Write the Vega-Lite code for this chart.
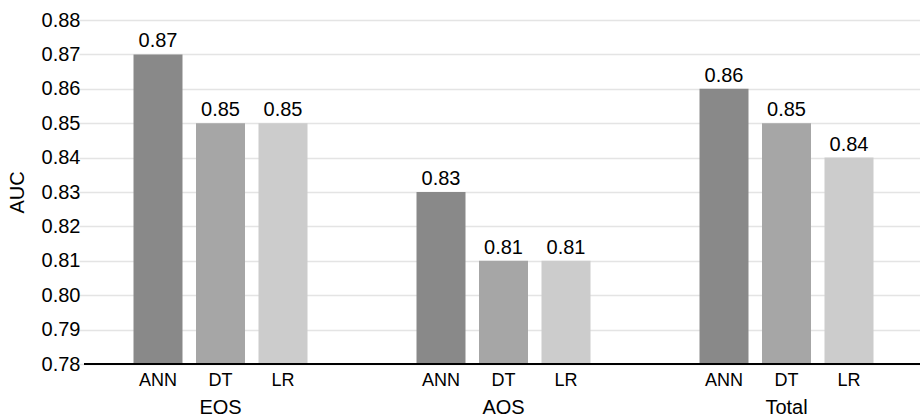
{
  "$schema": "https://vega.github.io/schema/vega-lite/v6.json",
  "autosize": {"type": "none"},
  "width": 849,
  "height": 344,
  "padding": {"left": 84, "top": 20, "right": 0, "bottom": 54},
  "background": "white",
  "config": {
    "view": {"stroke": null},
    "font": "Liberation Sans",
    "axis": {"labelFont": "Liberation Sans", "titleFont": "Liberation Sans", "labelColor": "#000", "titleColor": "#000"},
    "axisY": {"labelOverlap": false, "labelFlush": false, "labelFontSize": 20, "labelPadding": 4, "domain": false, "ticks": false, "grid": true, "gridColor": "#e4e4e4", "gridWidth": 1.5, "titleFontSize": 20, "titleFontWeight": "normal", "titlePadding": 14, "format": ".2f", "tickCount": 12}
  },
  "data": {
    "values": [
      {"group": "EOS", "model": "ANN", "auc": 0.87},
      {"group": "EOS", "model": "DT", "auc": 0.85},
      {"group": "EOS", "model": "LR", "auc": 0.85},
      {"group": "AOS", "model": "ANN", "auc": 0.83},
      {"group": "AOS", "model": "DT", "auc": 0.81},
      {"group": "AOS", "model": "LR", "auc": 0.81},
      {"group": "Total", "model": "ANN", "auc": 0.86},
      {"group": "Total", "model": "DT", "auc": 0.85},
      {"group": "Total", "model": "LR", "auc": 0.84}
    ]
  },
  "encoding": {
    "x": {
      "field": "group", "type": "nominal", "sort": ["EOS", "AOS", "Total"],
      "scale": {"paddingInner": 0, "paddingOuter": 0, "range": [-5, 844]},
      "axis": {"title": null, "domain": false, "ticks": false, "labelAngle": 0, "labelFontSize": 20, "labelPadding": 33, "labelBaseline": "top"}
    },
    "xOffset": {
      "field": "model", "type": "nominal", "sort": ["ANN", "DT", "LR"],
      "scale": {"paddingInner": 0.216, "paddingOuter": 0.872}
    }
  },
  "layer": [
    {
      "mark": {"type": "bar", "clip": false},
      "encoding": {
        "y": {
          "field": "auc", "type": "quantitative",
          "scale": {"domain": [0.78, 0.88], "zero": false, "nice": false},
          "axis": {"title": "AUC", "tickCount": 12, "values": [0.78, 0.79, 0.8, 0.81, 0.82, 0.83, 0.84, 0.85, 0.86, 0.87, 0.88]}
        },
        "y2": {"datum": 0.78},
        "color": {
          "field": "model", "type": "nominal", "sort": ["ANN", "DT", "LR"],
          "scale": {"domain": ["ANN", "DT", "LR"], "range": ["#898989", "#a6a6a6", "#cccccc"]},
          "legend": null
        }
      }
    },
    {
      "mark": {"type": "text", "fontSize": 20, "baseline": "alphabetic", "dy": -7, "color": "#000"},
      "encoding": {
        "y": {"field": "auc", "type": "quantitative"},
        "text": {"field": "auc", "type": "quantitative", "format": ".2f"}
      }
    },
    {
      "mark": {"type": "text", "fontSize": 18, "baseline": "alphabetic", "dy": 22, "color": "#000"},
      "encoding": {
        "y": {"datum": 0.78},
        "text": {"field": "model"}
      }
    },
    {
      "mark": {"type": "rule", "color": "#000", "strokeWidth": 2},
      "encoding": {"y": {"datum": 0.78}, "x": null, "xOffset": null}
    }
  ]
}
